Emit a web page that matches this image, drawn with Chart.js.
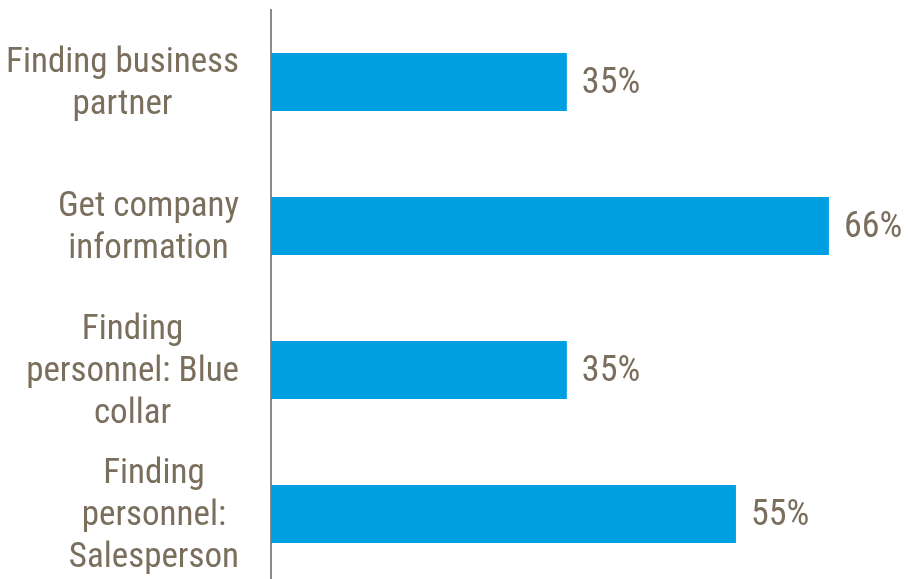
<!DOCTYPE html>
<html>
<head>
<meta charset="utf-8">
<script src="https://cdn.jsdelivr.net/npm/chart.js@4/dist/chart.umd.min.js"></script>
<style>
  html, body { margin: 0; padding: 0; background: #fff; overflow: hidden; }
  #wrap { width: 908px; height: 590px; }
</style>
</head>
<body>
<div id="wrap"><canvas id="chart" width="908" height="590"></canvas></div>
<script>
// data
const categories = [
    ['Finding business', 'partner'],
    ['Get company', 'information'],
    ['Finding', 'personnel: Blue', 'collar'],
    ['Finding', 'personnel:', 'Salesperson']
];
const shares = [35, 66, 35, 55];

const textColor = '#7a6e5d';
const barColor = '#009fe1';
const fontFamily = '"Liberation Sans Narrow", "Arial Narrow", "Roboto Condensed", "Liberation Sans", sans-serif';
const fontSize = 35;
const lineHeight = 42;

// category labels: lines centred on each other, block right-aligned next to the axis
const categoryLabels = {
    id: 'categoryLabels',
    afterDraw(chart) {
        const ctx = chart.ctx;
        const yScale = chart.scales.y;
        const right = chart.chartArea.left - 32;
        ctx.save();
        ctx.font = `${fontSize}px ${fontFamily}`;
        ctx.fillStyle = textColor;
        ctx.textAlign = 'center';
        ctx.textBaseline = 'middle';
        categories.forEach((lines, i) => {
            const maxW = Math.max(...lines.map(l => ctx.measureText(l).width));
            const cx = right - maxW / 2;
            const cy = yScale.getPixelForValue(i) + 2;
            const top = cy - (lines.length - 1) * lineHeight / 2;
            lines.forEach((l, j) => ctx.fillText(l, cx, top + j * lineHeight));
        });
        ctx.restore();
    }
};

// value labels to the right of each bar
const valueLabels = {
    id: 'valueLabels',
    afterDatasetsDraw(chart) {
        const ctx = chart.ctx;
        const meta = chart.getDatasetMeta(0);
        ctx.save();
        ctx.font = `${fontSize + 1}px ${fontFamily}`;
        ctx.fillStyle = textColor;
        ctx.textAlign = 'left';
        ctx.textBaseline = 'middle';
        meta.data.forEach((bar, i) => {
            ctx.fillText(shares[i] + '%', bar.x + 15, bar.y + 2);
        });
        ctx.restore();
    }
};

new Chart(document.getElementById('chart').getContext('2d'), {
    type: 'bar',
    data: {
        labels: categories,
        datasets: [{
            data: shares,
            backgroundColor: barColor,
            borderWidth: 0,
            barPercentage: 0.403,
            categoryPercentage: 1
        }]
    },
    options: {
        indexAxis: 'y',
        responsive: false,
        animation: false,
        layout: {
            padding: { left: 271, top: 10, right: 3, bottom: 4 }
        },
        scales: {
            x: {
                display: false,
                min: 0,
                max: 75
            },
            y: {
                display: true,
                ticks: { display: false },
                grid: { display: false, drawTicks: false },
                border: { display: true, color: '#8a8a8a', width: 2 }
            }
        },
        plugins: {
            legend: { display: false },
            tooltip: { enabled: false }
        }
    },
    plugins: [categoryLabels, valueLabels]
});
</script>
</body>
</html>
